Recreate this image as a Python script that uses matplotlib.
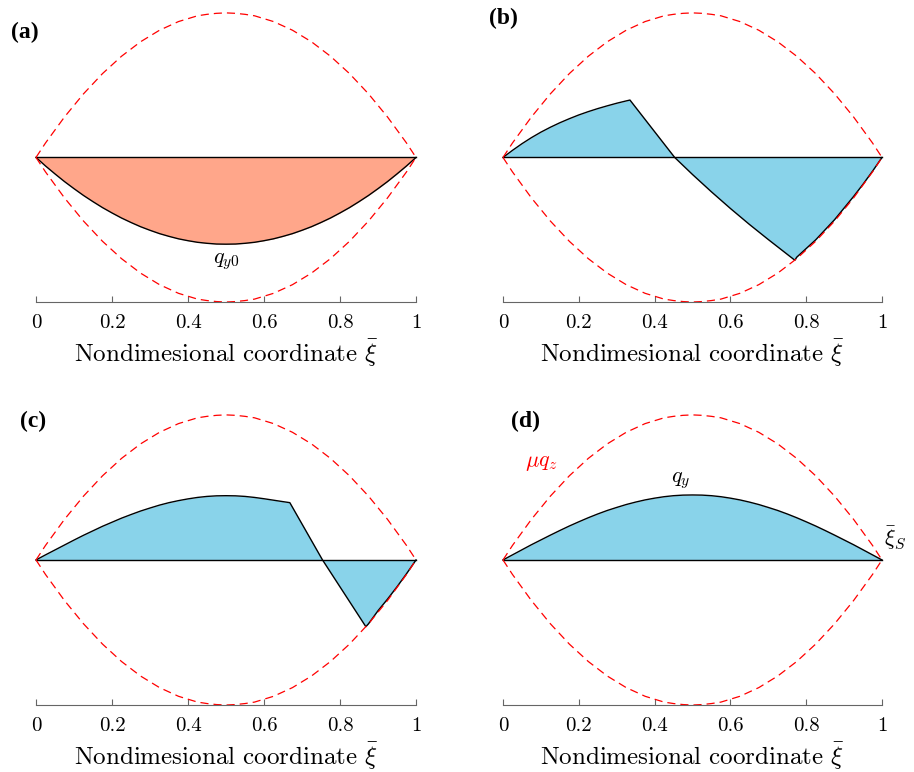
import matplotlib
matplotlib.use("Agg")
import matplotlib.pyplot as plt

plt.rcParams['font.family'] = 'serif'
plt.rcParams['font.serif'] = ['cmr10', 'DejaVu Serif']
plt.rcParams['mathtext.fontset'] = 'cm'
plt.rcParams['axes.formatter.use_mathtext'] = True

# envelope mu*q_z (upper half, mirrored for lower half)
xi_grid = [0, 0.025, 0.05, 0.075, 0.1, 0.125, 0.15, 0.175, 0.2, 0.225, 0.25,
           0.275, 0.3, 0.325, 0.35, 0.375, 0.4, 0.425, 0.45, 0.475, 0.5,
           0.525, 0.55, 0.575, 0.6, 0.625, 0.65, 0.675, 0.7, 0.725, 0.75,
           0.775, 0.8, 0.825, 0.85, 0.875, 0.9, 0.925, 0.95, 0.975, 1.0]
env = [0, 0.1, 0.19, 0.28, 0.36, 0.44, 0.51, 0.58, 0.64, 0.70, 0.75,
       0.80, 0.84, 0.88, 0.91, 0.94, 0.96, 0.98, 0.99, 0.997, 1.0,
       0.997, 0.99, 0.98, 0.96, 0.94, 0.91, 0.88, 0.84, 0.80, 0.75,
       0.70, 0.64, 0.58, 0.51, 0.44, 0.36, 0.28, 0.19, 0.1, 0]

# (a) initial q_y0
xi_a = xi_grid
q_a = [0, -0.059, -0.114, -0.167, -0.216, -0.263, -0.306, -0.347, -0.384, -0.419, -0.45,
       -0.479, -0.504, -0.527, -0.546, -0.563, -0.576, -0.587, -0.594, -0.599, -0.6,
       -0.599, -0.594, -0.587, -0.576, -0.563, -0.546, -0.527, -0.504, -0.479, -0.45,
       -0.419, -0.384, -0.347, -0.306, -0.263, -0.216, -0.167, -0.114, -0.059, 0]

# (b)
xi_b = [0, 0.025, 0.05, 0.075, 0.1, 0.125, 0.15, 0.175, 0.2, 0.225, 0.25, 0.275, 0.3,
        0.325, 0.335, 0.453, 0.5, 0.55, 0.6, 0.65, 0.7, 0.77,
        0.775, 0.8, 0.825, 0.85, 0.875, 0.9, 0.925, 0.95, 0.975, 1.0]
q_b = [0, 0.049, 0.095, 0.137, 0.175, 0.209, 0.24, 0.268, 0.294, 0.317, 0.338, 0.357, 0.375,
       0.391, 0.397, 0, -0.118, -0.238, -0.353, -0.463, -0.568, -0.711,
       -0.69, -0.63, -0.57, -0.50, -0.43, -0.35, -0.27, -0.185, -0.095, 0]

# (c)
xi_c = [0, 0.025, 0.05, 0.075, 0.1, 0.125, 0.15, 0.175, 0.2, 0.225, 0.25,
        0.275, 0.3, 0.325, 0.35, 0.375, 0.4, 0.425, 0.45, 0.475, 0.5,
        0.525, 0.55, 0.575, 0.6, 0.625, 0.65, 0.668, 0.754, 0.868,
        0.875, 0.9, 0.925, 0.95, 0.975, 1.0]
q_c = [0, 0.035, 0.069, 0.103, 0.137, 0.17, 0.201, 0.232, 0.26, 0.288, 0.313,
       0.337, 0.358, 0.378, 0.395, 0.409, 0.421, 0.431, 0.438, 0.442, 0.443,
       0.442, 0.438, 0.431, 0.422, 0.412, 0.402, 0.395, 0, -0.46,
       -0.44, -0.35, -0.27, -0.185, -0.095, 0]

# (d) final q_y
xi_d = xi_grid
q_d = [0, 0.035, 0.07, 0.105, 0.138, 0.171, 0.203, 0.234, 0.263, 0.291, 0.317,
       0.341, 0.362, 0.382, 0.399, 0.414, 0.426, 0.436, 0.443, 0.447, 0.448,
       0.447, 0.443, 0.436, 0.426, 0.414, 0.399, 0.382, 0.362, 0.341, 0.317,
       0.291, 0.263, 0.234, 0.203, 0.171, 0.138, 0.105, 0.07, 0.035, 0]

ticks = [0, 0.2, 0.4, 0.6, 0.8, 1]
tick_labels = ['0', '0.2', '0.4', '0.6', '0.8', '1']

fig = plt.figure(figsize=(9.14, 7.72), dpi=100)
W, H = 914, 772

def make_ax(x0, x1, ytop, ybot):
    return fig.add_axes([x0 / W, 1 - ybot / H, (x1 - x0) / W, (ybot - ytop) / H])

axes = [make_ax(36, 416, 10, 302), make_ax(503, 882, 10, 302),
        make_ax(36, 416, 412, 705), make_ax(503, 882, 412, 705)]
data = [(xi_a, q_a, '#FFA68A'), (xi_b, q_b, '#89D3EA'),
        (xi_c, q_c, '#89D3EA'), (xi_d, q_d, '#89D3EA')]

for ax, (x, q, c) in zip(axes, data):
    ax.fill_between(x, 0, q, color=c, lw=0)
    ax.plot(x, q, color='black', lw=1.0, clip_on=False)
    ax.plot([0, 1], [0, 0], color='black', lw=1.0, clip_on=False)
    ax.plot(xi_grid, env, color='red', ls=(0, (6.5, 4)), lw=0.9, clip_on=False)
    ax.plot(xi_grid, [-v for v in env], color='red', ls=(0, (6.5, 4)), lw=0.9, clip_on=False)
    ax.set_xlim(0, 1)
    ax.set_ylim(-1, 1.02)
    for s in ['top', 'right', 'left']:
        ax.spines[s].set_visible(False)
    ax.spines['bottom'].set_color('#666666')
    ax.set_yticks([])
    ax.set_xticks(ticks)
    ax.set_xticklabels(tick_labels)
    ax.tick_params(axis='x', direction='in', length=4, color='#666666', labelsize=15, pad=9)
    ax.set_xlabel(r'Nondimesional coordinate $\bar{\xi}$', fontsize=18, labelpad=3)
    ax.patch.set_alpha(0)

axes[0].text(0.5, -0.72, r'$q_{y0}$', fontsize=16, ha='center', va='center')
axes[3].text(0.1, 0.67, r'$\mu q_z$', fontsize=16, color='red', ha='center', va='center')
axes[3].text(0.47, 0.55, r'$q_y$', fontsize=16, ha='center', va='center')
axes[3].text(1.035, 0.15, r'$\bar{\xi}_S$', fontsize=16, ha='center', va='center')

for lab, px, py in [('(a)', 25, 32), ('(b)', 503, 18), ('(c)', 33, 421), ('(d)', 526, 421)]:
    fig.text(px / W, 1 - py / H, lab, fontsize=17, fontweight='bold',
             family='Liberation Serif', ha='center', va='center')

fig.savefig('out.png', dpi=100)
